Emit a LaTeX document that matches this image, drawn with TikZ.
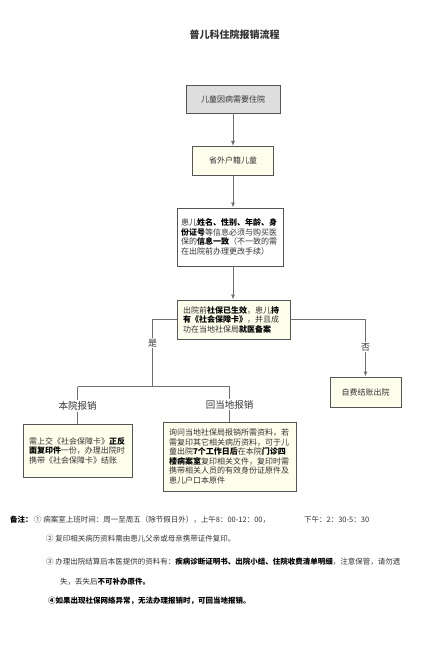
\documentclass[tikz,border=0pt]{standalone}
\usepackage{fontspec}
\setmainfont{Noto Sans CJK SC}
\usetikzlibrary{arrows.meta,positioning}
\definecolor{boxline}{RGB}{85,85,85}
\definecolor{boxfill}{RGB}{254,254,236}
\definecolor{startfill}{RGB}{222,222,222}
\definecolor{conn}{RGB}{110,110,110}
\definecolor{txt}{RGB}{51,51,51}
\newcommand{\hl}[1]{\textbf{\color{black}#1}}

\begin{document}
\begin{tikzpicture}[x=1pt,y=-1pt,
 proc/.style={draw=boxline,line width=0.9pt,fill=boxfill,text=txt,
   font=\fontsize{8pt}{9.5pt}\selectfont,inner sep=0pt},
 onebox/.style={proc,align=center},
 textbox/.style={proc,align=left,inner xsep=6pt},
 lab/.style={fill=white,text=txt,inner sep=1pt,font=\fontsize{9.5pt}{11pt}\selectfont},
 note/.style={anchor=west,inner sep=0pt,text=txt,font=\fontsize{7.5pt}{9pt}\selectfont},
 link/.style={draw=conn,line width=0.9pt},
 arr/.style={link,-{Latex[length=5pt,width=4pt]}}]
\fill[white] (0,0) rectangle (431,648);
\useasboundingbox (0,0) rectangle (431,648);

\node[font=\fontsize{10pt}{12pt}\selectfont\bfseries,text=txt] (title) at (234.5,35) {普儿科住院报销流程};

% main column
\node[onebox,fill=startfill,minimum width=94pt,minimum height=28pt] (b1) at (233,99) {儿童因病需要住院};
\node[onebox,minimum width=81pt,minimum height=29pt,below=32.5pt of b1] (b2) {省外户籍儿童};
\node[textbox,fill=white,text width=98pt,inner xsep=4pt,minimum height=58pt] (b3) at (230,237)
 {患儿\hl{姓名、性别、年龄、身}\\\hl{份证号}等信息必须与购买医\\保的\hl{信息一致}（不一致的需\\在出院前办理更改手续）};
\node[textbox,text width=101pt,minimum height=39pt] (b4) at (233.5,319.5)
 {出院前\hl{社保已生效}，患儿\hl{持}\\\hl{有《社会保障卡》}，并且成\\功在当地社保局\hl{就医备案}};

% branches
\node[textbox,text width=97pt,minimum height=53pt] (b5) at (77.5,450.5)
 {需上交《社会保障卡》\hl{正反}\\\hl{面复印件}一份，办理出院时\\携带《社会保障卡》结账};
\node[textbox,text width=121pt,minimum height=69pt] (b6) at (229.5,456.5)
 {询问当地社保局报销所需资料，若\\需复印其它相关病历资料，可于儿\\童出院\hl{7个工作日后}在本院\hl{门诊四}\\\hl{楼病案室}复印相关文件，复印时需\\携带相关人员的有效身份证原件及\\患儿户口本原件};
\node[onebox,minimum width=71pt,minimum height=30pt] (b7) at (365.5,392) {自费结账出院};

\node[lab,font=\fontsize{9pt}{11pt}\selectfont] (yes) at (152.7,343) {是};
\node[lab,font=\fontsize{9pt}{11pt}\selectfont] (no) at (365.5,347) {否};
\node[lab] (l5) at (77.5,406) {本院报销};
\node[lab] (l6) at (229.5,404.5) {回当地报销};
\coordinate (jy) at (152.7,386.7);
\coordinate (jl) at (77.5,386.7);
\coordinate (jr) at (229.5,386.7);

\draw[arr] (b1) -- (b2);
\draw[arr] (b2) -- (b2 |- b3.north);
\draw[arr] (b3.south -| b2) -- (b4.north -| b2);
\draw[link] (b4.west) -| (yes.north);
\draw[link] (yes.south) -- (jy);
\draw[link] (jl) -- (jr);
\draw[link] (jl) -- (l5.north);
\draw[link] (l5.south) -- (b5.north);
\draw[link] (jr) -- (l6.north);
\draw[link] (l6.south) -- (b6.north);
\draw[link] (b4.east) -| (no.north);
\draw[arr] (no.south) -- (b7.north);

% notes
\node[note] (n0) at (10,520) {\hl{备注：}};
\node[note] (n1) at (34,520) {① 病案室上班时间：周一至周五（除节假日外），上午8：00-12：00，\hspace{34pt}下午：2：30-5：30};
\node[note] (n2) at (46,539) {② 复印相关病历资料需由患儿父亲或母亲携带证件复印。};
\node[note] (n3) at (46,562) {③ 办理出院结算后本医提供的资料有：\hl{疾病诊断证明书、出院小结、住院收费清单明细}，注意保管，请勿遗};
\node[note] (n3b) at (60,582) {失，丢失后\hl{不可补办原件。}};
\node[note] (n4) at (48,601) {\hl{④如果出现社保网络异常，无法办理报销时，可回当地报销。}};
\end{tikzpicture}
\end{document}
